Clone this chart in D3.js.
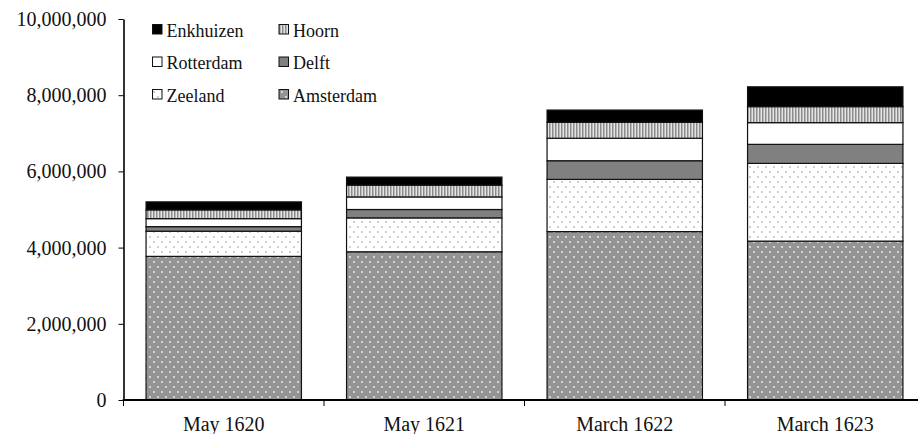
<!DOCTYPE html>
<html>
<head>
<meta charset="utf-8">
<script src="https://cdn.jsdelivr.net/npm/d3@7/dist/d3.min.js"></script>
<style>
  html, body { margin: 0; padding: 0; background: #fff; }
  svg { display: block; }
  svg text { font-family: "Liberation Serif", "DejaVu Serif", serif !important; fill: #111; }
</style>
</head>
<body>
<svg id="chart" width="918" height="434" font-family="Liberation Serif, serif"></svg>
<script>
// ---- data ----
const categories = ["May 1620", "May 1621", "March 1622", "March 1623"];
const seriesNames = ["Amsterdam", "Zeeland", "Delft", "Rotterdam", "Hoorn", "Enkhuizen"];
const amsterdam = [3770000, 3890000, 4420000, 4170000];
const zeeland   = [660000, 890000, 1370000, 2040000];
const delft     = [120000, 220000, 490000, 500000];
const rotterdam = [210000, 330000, 590000, 570000];
const hoorn     = [230000, 310000, 420000, 420000];
const enkhuizen = [210000, 210000, 320000, 520000];
const yTicks = [0, 2000000, 4000000, 6000000, 8000000, 10000000];
const legendOrder = ["Enkhuizen", "Hoorn", "Rotterdam", "Delft", "Zeeland", "Amsterdam"];

const seriesValues = { Amsterdam: amsterdam, Zeeland: zeeland, Delft: delft,
  Rotterdam: rotterdam, Hoorn: hoorn, Enkhuizen: enkhuizen };

const table = categories.map((c, i) => {
  const row = { category: c };
  seriesNames.forEach(s => row[s] = seriesValues[s][i]);
  return row;
});

const svg = d3.select("#chart");
const FONT = "'Liberation Serif', serif";

// ---- patterns ----
const defs = svg.append("defs");
function dotPattern(id, bg, dot) {
  const p = defs.append("pattern").attr("id", id).attr("patternUnits", "userSpaceOnUse")
    .attr("width", 8).attr("height", 10);
  p.append("rect").attr("width", 8).attr("height", 10).attr("fill", bg);
  p.append("rect").attr("x", 1).attr("y", 1).attr("width", 2).attr("height", 2).attr("fill", dot);
  p.append("rect").attr("x", 5).attr("y", 6).attr("width", 2).attr("height", 2).attr("fill", dot);
}
dotPattern("pAms", "#949494", "#d4d4d4");
dotPattern("pZee", "#ffffff", "#cfcfcf");
const ph = defs.append("pattern").attr("id", "pHoorn").attr("patternUnits", "userSpaceOnUse")
  .attr("width", 3).attr("height", 4);
ph.append("rect").attr("width", 3).attr("height", 4).attr("fill", "#e4e4e4");
ph.append("rect").attr("width", 1.5).attr("height", 4).attr("fill", "#8c8c8c");

const fills = {
  Amsterdam: "url(#pAms)", Zeeland: "url(#pZee)", Delft: "#808080",
  Rotterdam: "#ffffff", Hoorn: "url(#pHoorn)", Enkhuizen: "#000000"
};

// ---- scales ----
const x = d3.scaleBand().domain(categories).range([123.5, 925.5])
  .paddingInner(0.225).paddingOuter(0.1125);
const y = d3.scaleLinear().domain([0, 10000000]).range([400, 19]);

const stack = d3.stack().keys(seriesNames)(table);

// ---- bars ----
const g = svg.append("g");
g.selectAll("g.series").data(stack).join("g").attr("class", "series")
  .attr("fill", d => fills[d.key])
  .selectAll("rect").data(d => d).join("rect")
  .attr("x", d => x(d.data.category))
  .attr("width", x.bandwidth())
  .attr("y", d => y(d[1]))
  .attr("height", d => y(d[0]) - y(d[1]))
  .attr("stroke", "#111").attr("stroke-width", 1.2);

// ---- y axis ----
const yAxis = d3.axisLeft(y).tickValues(yTicks).tickSizeInner(5).tickSizeOuter(0)
  .tickPadding(12).tickFormat(d3.format(","));
const ya = svg.append("g").attr("transform", "translate(123.5,0)").call(yAxis);
ya.attr("font-family", FONT).attr("font-size", 20);
ya.select(".domain").attr("stroke", "#000").attr("stroke-width", 1.6);
ya.selectAll(".tick line").attr("stroke", "#000").attr("stroke-width", 1);
ya.selectAll("text").attr("font-family", FONT).style("font-size", "20px").attr("fill", "#111");

// ---- x axis ----
const xa = svg.append("g").attr("transform", "translate(0,400)");
xa.append("line").attr("x1", 122.7).attr("x2", 918).attr("y1", 0).attr("y2", 0)
  .attr("stroke", "#000").attr("stroke-width", 2);
const bounds = categories.map(c => x(c) - x.step() * x.paddingInner() / 2);
bounds[0] = x.range()[0];
xa.selectAll("line.tk").data(bounds).join("line").attr("class", "tk")
  .attr("x1", d => d).attr("x2", d => d).attr("y1", 0).attr("y2", 6)
  .attr("stroke", "#000").attr("stroke-width", 1);
xa.selectAll("text").data(categories).join("text")
  .attr("x", d => x(d) + x.bandwidth() / 2).attr("y", 31)
  .attr("text-anchor", "middle").attr("font-family", FONT).style("font-size", "20px").text(d => d);

// ---- legend ----
const leg = svg.append("g");
legendOrder.forEach((name, i) => {
  const col = i % 2, row = Math.floor(i / 2);
  const lx = 152.5 + col * 126.5, ly = 24.5 + row * 32.5;
  leg.append("rect").attr("x", lx).attr("y", ly).attr("width", 9.5).attr("height", 9.5)
    .attr("fill", fills[name]).attr("stroke", "#111").attr("stroke-width", 1);
  leg.append("text").attr("x", lx + 14).attr("y", ly + 12)
    .attr("font-family", FONT).style("font-size", "18px").text(name);
});
</script>
</body>
</html>
